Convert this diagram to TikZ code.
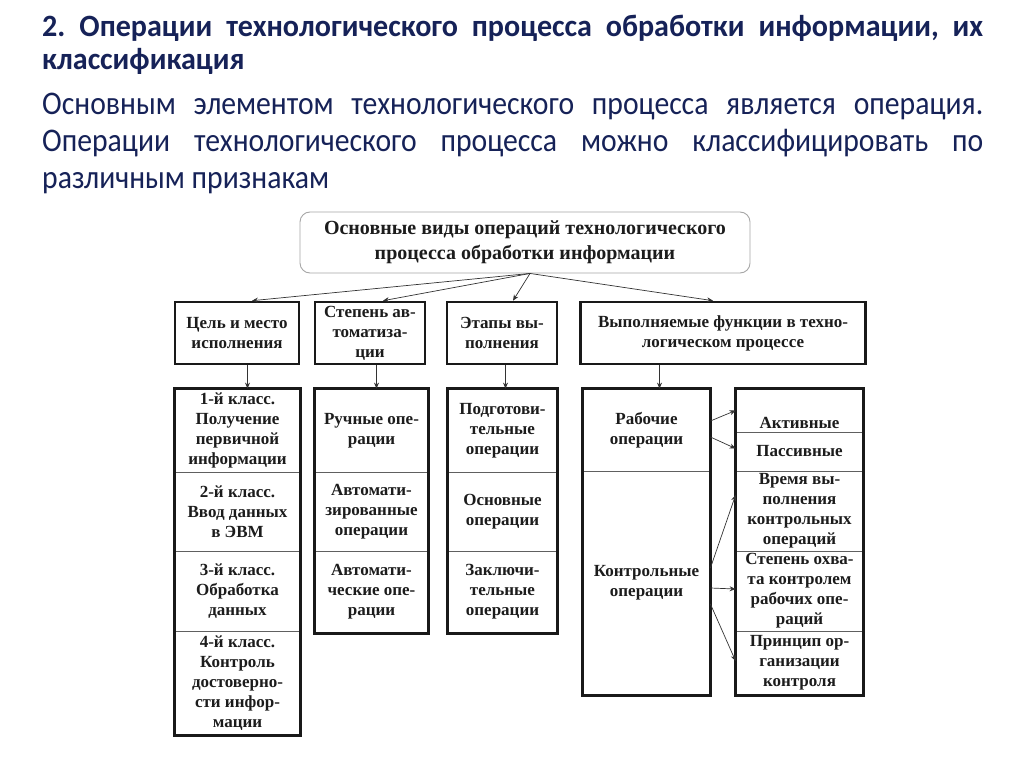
\documentclass[tikz,border=0pt]{standalone}
\usepackage{fontspec}
\setmainfont{Liberation Serif}
\newfontfamily\slidefont{Carlito}[FakeStretch=0.9]
\newfontfamily\headfont{Carlito}[FakeStretch=0.97]
\usetikzlibrary{arrows.meta,positioning,calc}
\definecolor{navy}{RGB}{22,34,88}
\definecolor{ink}{RGB}{28,28,28}

\begin{document}
\begin{tikzpicture}[x=1pt,y=-1pt,
  cell/.style 2 args={draw=gray!75!black,line width=0.8pt,minimum width=#1pt,
              minimum height=#2pt,inner sep=1pt,align=center,text=ink,
              font=\bfseries\fontsize{17}{20}\selectfont},
  hbox/.style={draw=black!90,line width=2.6pt,minimum width=#1pt,minimum height=62pt,
              inner sep=1pt,align=center,text=ink,font=\bfseries\fontsize{17}{20}\selectfont},
  frame/.style={draw=black!90,line width=2.6pt},
  arr/.style={-{Stealth[length=6pt,width=5pt]},line width=0.7pt,draw=black!80}
]
\useasboundingbox[fill=white] (0,0) rectangle (1024,767);

% slide heading
\node[anchor=base west,inner sep=0,text width=941pt,align=justify,text=navy,
      font=\headfont\bfseries\fontsize{31}{33}\selectfont] (ttl) at (42,37)
  {\frenchspacing\hyphenpenalty=10000 2. Операции технологического процесса обработки информации, их\linebreak
   классификация};
\node[anchor=base west,inner sep=0,text width=941pt,align=justify,text=navy,
      font=\slidefont\fontsize{33}{37}\selectfont] (txt) at (42,115)
  {\hyphenpenalty=10000 Основным элементом технологического процесса является операция.\linebreak
   Операции технологического процесса можно классифицировать по\linebreak
   различным признакам};

% root
\node[draw=gray!70,line width=0.9pt,rounded corners=10pt,minimum width=450pt,minimum height=61pt,
      align=center,text=ink,font=\bfseries\fontsize{20}{25}\selectfont] (top) at (525,242.5)
  {Основные виды операций технологического\\процесса обработки информации};
\coordinate (src) at ([xshift=5pt]top.south);

% classification features
\node[hbox=124] (b1) at (237,333) {Цель и место\\исполнения};
\node[hbox=110] (b2) at (370,333) {Степень ав-\\томатиза-\\ции};
\node[hbox=110] (b3) at (502,333) {Этапы вы-\\полнения};
\node[hbox=285] (b4) at (723,333) {Выполняемые функции в техно-\\логическом процессе};

\draw[arr] (src) -- ([xshift=15pt]b1.north);
\draw[arr] (src) -- ([xshift=13pt]b2.north);
\draw[arr] (src) -- ([xshift=11pt]b3.north);
\draw[arr] (src) -- ([xshift=-10pt]b4.north);

% column 1
\node[cell={125}{83}]  (k1) at (237.5,430.5) {1-й класс.\\Получение\\первичной\\информации};
\node[cell={125}{79}]  (k2) at (237.5,511.5) {2-й класс.\\Ввод данных\\в ЭВМ};
\node[cell={125}{80}]  (k3) at (237.5,591)   {3-й класс.\\Обработка\\данных};
\node[cell={125}{104}] (k4) at (237.5,683)   {4-й класс.\\Контроль\\достоверно-\\сти инфор-\\мации};
\draw[frame] (k1.north west) rectangle (k4.south east);

% column 2
\node[cell={113}{83}] (m1) at (371.5,430.5) {Ручные опе-\\рации};
\node[cell={113}{79}] (m2) at (371.5,511.5) {Автомати-\\зированные\\операции};
\node[cell={113}{82}] (m3) at (371.5,592)   {Автомати-\\ческие опе-\\рации};
\draw[frame] (m1.north west) rectangle (m3.south east);

% column 3
\node[cell={109}{83}] (s1) at (502.5,430.5) {Подготови-\\тельные\\операции};
\node[cell={109}{79}] (s2) at (502.5,511.5) {Основные\\операции};
\node[cell={109}{82}] (s3) at (502.5,592)   {Заключи-\\тельные\\операции};
\draw[frame] (s1.north west) rectangle (s3.south east);

% column 4
\node[cell={127}{82}]  (w1) at (646.5,430) {Рабочие\\операции};
\node[cell={127}{224}] (w2) at (646.5,583) {Контрольные\\операции};
\draw[frame] (w1.north west) rectangle (w2.south east);

\node[cell={127}{43}] (r1) at (799.5,410.5) {\raisebox{-12pt}[\height][\depth]{Активные}};
\node[cell={127}{39}] (r2) at (799.5,451.5) {Пассивные};
\node[cell={127}{80}] (r3) at (799.5,511)   {Время вы-\\полнения\\контрольных\\операций};
\node[cell={127}{80}] (r4) at (799.5,591)   {Степень охва-\\та контролем\\рабочих опе-\\раций};
\node[cell={127}{64}] (r5) at (799.5,663)   {Принцип ор-\\ганизации\\контроля};
\draw[frame] (r1.north west) rectangle (r5.south east);

% down links
\draw[arr] ([xshift=10pt]k1.north |- b1.south) -- ([xshift=10pt]k1.north);
\draw[arr] ([xshift=5pt]m1.north |- b2.south) -- ([xshift=5pt]m1.north);
\draw[arr] ([xshift=3pt]s1.north |- b3.south) -- ([xshift=3pt]s1.north);
\draw[arr] ([xshift=13pt]w1.north |- b4.south) -- ([xshift=13pt]w1.north);

% function links
\draw[arr] ([yshift=9pt]w1.east)  -- (r1.west);
\draw[arr] ([yshift=-7pt]w1.east) -- ([yshift=3pt]r2.west);
\draw[arr] ([yshift=15pt]w2.east) -- ([yshift=16pt]r3.west);
\draw[arr] ([yshift=-5pt]w2.east) -- ([yshift=2pt]r4.west);
\draw[arr] ([yshift=-21pt]w2.east) -- ([yshift=2pt]r5.west);
\end{tikzpicture}
\end{document}
